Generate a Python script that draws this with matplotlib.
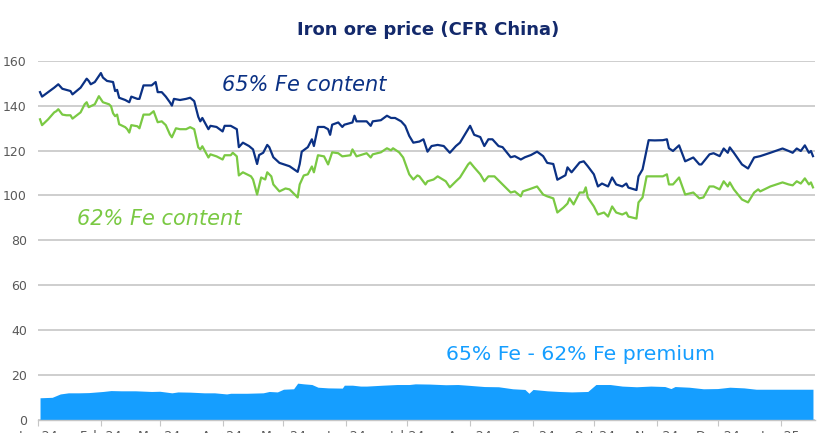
import matplotlib
matplotlib.use("Agg")
import matplotlib.pyplot as plt
import matplotlib.dates as mdates
import numpy as np
import datetime as dt

# Data: day offsets from 2024-01-01 and prices (USD/t)
base_date = dt.date(2024, 1, 1)

fe65_days = [1, 2, 5, 8, 10, 12, 14, 16, 17, 21, 24, 25, 26, 28, 31, 32, 34, 37, 38, 39, 40, 43, 45, 46, 49, 50,
             52, 56, 58, 59, 61, 63, 65, 66, 67, 70, 73, 75, 77, 79, 80, 81, 84, 85, 88, 91, 92, 95, 98, 99, 101,
             104, 106, 108, 109, 111, 113, 114, 116, 119, 124, 128, 129, 130, 133, 135, 136, 138, 141, 143, 144,
             145, 148, 150, 151, 155, 156, 157, 162, 164, 165, 169, 172, 174, 176, 179, 181, 183, 185, 188, 190,
             192, 194, 197, 200, 203, 206, 208, 212, 213, 215, 218, 220, 222, 224, 227, 229, 233, 235, 238, 240,
             243, 246, 249, 251, 254, 256, 259, 260, 261, 263, 267, 269, 271, 274, 276, 278, 281, 283, 285, 288,
             290, 291, 295, 296, 298, 301, 304, 308, 310, 311, 313, 316, 319, 323, 326, 327, 331, 333, 336, 338,
             340, 341, 343, 347, 350, 353, 356, 361, 367, 370, 372, 374, 376, 378, 380, 381, 382]
fe65_values = [146, 144, 146, 148, 149.5, 147.5, 147, 146.5, 145, 148, 152, 151, 149.5, 150.5, 154.5, 152.5, 151,
               150.5, 146.5, 147, 143.5, 142.5, 141.5, 144, 143, 143, 149, 149, 150.5, 146, 146, 144, 141.5, 140,
               143, 142.5, 143, 143.5, 142, 135, 133, 134.5, 129.5, 131, 130.5, 128.5, 131, 131, 129.5, 121.5,
               123.5, 122, 120.5, 114, 118, 119, 122.5, 121.5, 117, 114.5, 113, 110.5, 114, 119.5, 121.5, 125,
               122, 130.5, 130.5, 129.5, 127, 131.5, 132.5, 130.5, 131.5, 132.5, 135.5, 133, 133, 131, 133, 133.5,
               135.5, 134.5, 134.5, 133, 131, 126.5, 123.5, 124, 125, 119.5, 122, 122.5, 122, 119, 122, 123.5,
               129.5, 131, 127, 126, 122, 125, 125, 122, 121.5, 117, 117.5, 116, 117, 118, 119.5, 117.5, 114.5,
               114, 107, 108.5, 109, 112.5, 110.3, 114.7, 115.2, 113, 109.4, 104, 105.3, 104, 108, 104.9, 104,
               105.3, 103.5, 102.4, 108.5, 111.6, 124.6, 124.5, 124.6, 125, 121, 119.8, 122.3, 115.2, 116.9,
               113.8, 113.8, 118.3, 118.8, 117.5, 120.9, 119, 121.4, 119, 113.8, 112, 116.9, 117.5, 119, 120.9,
               119.8, 119, 120.9, 119.8, 122.3, 119, 119.8, 117.5]

fe62_days = [1, 2, 5, 8, 9, 10, 12, 14, 16, 17, 21, 23, 24, 25, 28, 30, 32, 35, 36, 37, 38, 39, 40, 43, 44, 45,
             46, 49, 50, 52, 55, 57, 59, 61, 63, 65, 66, 68, 70, 73, 75, 77, 79, 80, 81, 84, 85, 88, 91, 92, 95,
             96, 98, 99, 101, 105, 106, 108, 110, 112, 113, 115, 116, 119, 122, 124, 128, 129, 131, 133, 135, 136,
             138, 141, 143, 145, 148, 150, 154, 155, 157, 162, 164, 165, 169, 172, 174, 175, 178, 180, 183, 185,
             187, 188, 191, 192, 195, 197, 201, 203, 206, 208, 212, 213, 215, 218, 220, 222, 225, 228, 229, 233,
             235, 238, 239, 242, 246, 249, 251, 254, 256, 259, 261, 262, 264, 267, 269, 270, 271, 274, 276, 279,
             281, 283, 285, 288, 290, 291, 295, 296, 298, 300, 304, 308, 310, 311, 313, 316, 319, 323, 326, 328,
             331, 333, 336, 338, 340, 341, 343, 347, 350, 353, 355, 356, 361, 367, 370, 372, 374, 376, 378, 380,
             381, 382]
fe62_values = [133.9, 131.3, 133.9, 137, 137.5, 138.4, 136, 135.7, 135.7, 134.2, 137, 140.6, 141.5, 139.3, 140.6,
               144.2, 141.5, 140.6, 139.7, 136.6, 135.3, 136, 131.7, 130.4, 129.5, 128, 131.3, 130.8, 129.9, 136,
               136, 137.5, 132.6, 133, 131.3, 127.2, 125.9, 129.9, 129.5, 129.5, 130.4, 129.5, 121.4, 120.5,
               121.9, 116.9, 118.3, 117.4, 116, 117.9, 117.9, 119, 117.4, 108.9, 110.3, 108.5, 107.1, 100.4, 108,
               107.1, 110.3, 108.5, 104.9, 101.8, 103.1, 102.7, 99.1, 104.9, 108.9, 109.4, 112.9, 110.3, 117.9,
               117.4, 113.8, 119.2, 118.8, 117.4, 117.9, 120.5, 117.4, 118.8, 116.9, 118.3, 119.2, 121, 120.1,
               121, 119.2, 116.9, 109.4, 107.1, 108.9, 108.5, 104.9, 106.3, 107.1, 108.5, 106.3, 103.6, 106.3,
               108, 113.8, 114.7, 112.5, 109.4, 106.3, 108.5, 108.5, 105.8, 104.9, 101.3, 101.8, 99.6, 101.8,
               102.7, 104, 100.4, 99.6, 98.7, 92.4, 94.6, 96.4, 98.7, 96, 101.3, 101.3, 103.6, 99.1, 95.1, 91.5,
               92.4, 90.6, 95.1, 92.4, 91.5, 92.4, 90.6, 89.7, 96.9, 99.1, 108.5, 108.5, 108.5, 109.4, 104.9,
               104.9, 108, 100.4, 101.3, 98.7, 99.1, 104, 104, 102.7, 106.3, 104, 105.8, 102.7, 98.2, 96.9, 101.3,
               102.7, 101.8, 104, 105.8, 104.9, 104.5, 106.3, 105.3, 107.6, 104.9, 105.8, 103.6]

premium_days = [1, 7, 11, 15, 20, 25, 32, 36, 41, 48, 56, 60, 66, 69, 75, 82, 87, 93, 95, 103, 111, 114, 118, 121,
                126, 128, 131, 135, 138, 143, 150, 151, 155, 159, 162, 170, 177, 183, 186, 193, 201, 207, 213, 220,
                227, 234, 240, 242, 244, 251, 257, 263, 271, 275, 282, 288, 295, 302, 309, 312, 314, 321, 328, 335,
                341, 348, 354, 365, 375, 382]
premium_values = [9.9, 10.1, 11.6, 12.1, 12.1, 12.2, 12.7, 13.1, 13.0, 13.0, 12.7, 12.8, 12.1, 12.5, 12.4, 12.1,
                  12.1, 11.6, 11.9, 11.9, 12.1, 12.7, 12.5, 13.7, 13.9, 16.4, 16.1, 15.8, 14.6, 14.3, 14.2, 15.5,
                  15.5, 15.1, 15.1, 15.5, 15.8, 15.8, 16.1, 16.0, 15.7, 15.8, 15.4, 14.9, 14.8, 13.9, 13.6, 11.9,
                  13.6, 13.0, 12.7, 12.5, 12.7, 15.8, 15.8, 15.1, 14.8, 15.1, 14.9, 14.0, 14.9, 14.6, 13.9, 14.0,
                  14.6, 14.3, 13.7, 13.7, 13.7, 13.7]

month_ticks = ["2024-01-01", "2024-02-01", "2024-03-01", "2024-04-01", "2024-05-01", "2024-06-01", "2024-07-01",
               "2024-08-01", "2024-09-01", "2024-10-01", "2024-11-01", "2024-12-01", "2025-01-01"]
y_ticks = [0, 20, 40, 60, 80, 100, 120, 140, 160]


def to_dates(days):
    return [base_date + dt.timedelta(days=d) for d in days]


c_blue = "#0b3184"
c_green = "#7ac943"
c_area = "#159eff"
c_title = "#13296b"

fig = plt.figure(figsize=(8.19, 4.33), dpi=100)
ax = fig.add_axes([38 / 819, 13 / 433, 777 / 819, 359.3 / 433])

ax.fill_between(to_dates(premium_days), premium_values, 0, color=c_area, linewidth=0, zorder=2)
ax.plot(to_dates(fe65_days), fe65_values, color=c_blue, linewidth=1.6, zorder=3)
ax.plot(to_dates(fe62_days), fe62_values, color=c_green, linewidth=1.6, zorder=3)

ax.set_ylim(0, 160)
ax.set_xlim(base_date, base_date + dt.timedelta(days=383))
ax.set_yticks(y_ticks)
ax.set_xticks([dt.date.fromisoformat(s) for s in month_ticks])
ax.xaxis.set_major_formatter(mdates.DateFormatter("%b-%y"))

ax.grid(axis="y", color="#c6c6c6", linewidth=1.2, zorder=0)
ax.set_axisbelow(True)
for s in ["top", "right", "left"]:
    ax.spines[s].set_visible(False)
ax.spines["bottom"].set_color("#c6c6c6")
ax.spines["bottom"].set_linewidth(1.0)
ax.tick_params(axis="y", length=0, pad=8, labelsize=9, labelcolor="#595959")
ax.tick_params(axis="x", length=4, color="#c6c6c6", pad=3, labelsize=9, labelcolor="#595959")

fig.text(428 / 819, 1 - 30 / 433, "Iron ore price (CFR China)", ha="center", va="center",
         fontsize=13, fontweight="bold", color=c_title, family="DejaVu Sans")
fig.text(222 / 819, 1 - 85 / 433, "65% Fe content", ha="left", va="center",
         fontsize=15, style="italic", color=c_blue, family="DejaVu Sans")
fig.text(77 / 819, 1 - 219 / 433, "62% Fe content", ha="left", va="center",
         fontsize=15, style="italic", color=c_green, family="DejaVu Sans")
fig.text(446 / 819, 1 - 354 / 433, "65% Fe - 62% Fe premium", ha="left", va="center",
         fontsize=14.7, color=c_area, family="DejaVu Sans")

fig.savefig("out.png", dpi=100)
